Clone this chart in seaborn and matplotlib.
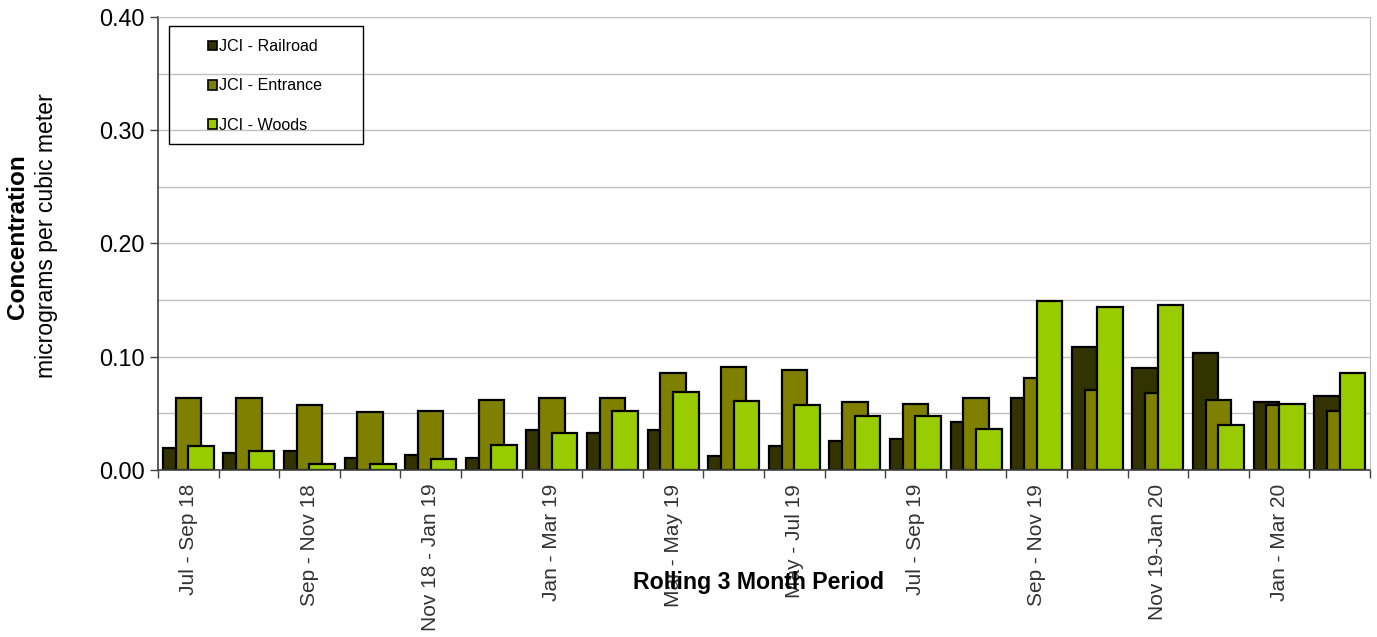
import pandas as pd
import matplotlib
matplotlib.use("Agg")
import matplotlib.pyplot as plt
import seaborn as sns
from matplotlib.patches import Rectangle
from matplotlib.ticker import MultipleLocator, FixedLocator, NullFormatter

# Rolling 3 month periods
periods = ['Jul - Sep 18', 'Aug - Oct 18', 'Sep - Nov 18', 'Oct - Dec 18',
           'Nov 18 - Jan 19', 'Dec 18 - Feb 19', 'Jan - Mar 19', 'Feb - Apr 19',
           'Mar - May 19', 'Apr - Jun 19', 'May - Jul 19', 'Jun - Aug 19',
           'Jul - Sep 19', 'Aug - Oct 19', 'Sep - Nov 19', 'Oct - Dec 19',
           'Nov 19-Jan 20', 'Dec 19 - Feb 20', 'Jan - Mar 20', 'Feb - Apr 20']

# Concentrations (micrograms per cubic meter)
railroad = [0.019, 0.015, 0.017, 0.011, 0.013, 0.011, 0.035, 0.033, 0.035, 0.012,
            0.021, 0.026, 0.027, 0.042, 0.064, 0.109, 0.090, 0.103, 0.060, 0.065]
entrance = [0.064, 0.064, 0.057, 0.051, 0.052, 0.062, 0.064, 0.064, 0.086, 0.091,
            0.088, 0.060, 0.058, 0.064, 0.081, 0.071, 0.068, 0.062, 0.057, 0.052]
woods = [0.021, 0.017, 0.005, 0.005, 0.010, 0.022, 0.033, 0.052, 0.069, 0.061,
         0.057, 0.048, 0.048, 0.036, 0.149, 0.144, 0.146, 0.040, 0.058, 0.086]

series = ['JCI - Railroad', 'JCI - Entrance', 'JCI - Woods']
colors = ['#333300', '#808000', '#99cc00']

df = pd.DataFrame({'Period': periods * 3,
                   'Site': [s for s in series for _ in periods],
                   'Value': railroad + entrance + woods})

plt.rcParams['font.family'] = ['Liberation Sans', 'DejaVu Sans']

fig = plt.figure(figsize=(13.77, 6.37), dpi=100)
ax = fig.add_axes([0.1147, 0.2622, 0.8802, 0.7111])

sns.barplot(data=df, x='Period', y='Value', hue='Site', order=periods,
            hue_order=series, palette=colors, width=0.63, errorbar=None,
            edgecolor='black', linewidth=1.6, saturation=1, ax=ax)

# Excel-style overlapping bars: widen each bar around its centre
for p in ax.patches:
    w = p.get_width()
    p.set_x(p.get_x() - w / 2)
    p.set_width(w * 2)

ax.set_xlim(-0.5, len(periods) - 0.5)
ax.set_ylim(0, 0.40)

# y axis
ax.yaxis.set_major_locator(MultipleLocator(0.10))
ax.yaxis.set_minor_locator(MultipleLocator(0.05))
ax.yaxis.set_major_formatter(lambda v, pos: f'{v:.2f}')
ax.grid(axis='y', which='both', color='#c0c0c0', linewidth=1)
ax.set_axisbelow(True)
ax.tick_params(axis='y', which='major', labelsize=16.8, length=6, width=1, color='#404040')
ax.tick_params(axis='y', which='minor', length=0)

# x axis: tick marks between groups, labels on every second group
ax.xaxis.set_major_locator(FixedLocator([i - 0.5 for i in range(len(periods) + 1)]))
ax.xaxis.set_major_formatter(NullFormatter())
ax.xaxis.set_minor_locator(FixedLocator(list(range(0, len(periods), 2))))
ax.xaxis.set_minor_formatter(lambda v, pos: periods[int(round(v))])
ax.tick_params(axis='x', which='major', length=6, width=1, color='#404040')
ax.tick_params(axis='x', which='minor', length=0, labelsize=15, labelcolor='#333333',
               labelrotation=90, pad=10)

for side in ['left', 'bottom']:
    ax.spines[side].set_color('#404040')
    ax.spines[side].set_linewidth(1.2)
for side in ['top', 'right']:
    ax.spines[side].set_color('#c0c0c0')

ax.set_xlabel('')
ax.set_ylabel('')
fig.text(0.551, 0.086, 'Rolling 3 Month Period', ha='center', va='center',
         fontsize=16.7, fontweight='bold')
fig.text(0.0125, 0.628, 'Concentration', rotation=90, ha='center', va='center',
         fontsize=17.5, fontweight='bold')
fig.text(0.034, 0.63, 'micrograms per cubic meter', rotation=90, ha='center',
         va='center', fontsize=16.6)

# legend entries, with the box drawn separately (wide, transparent)
leg = ax.legend(loc='upper left', bbox_to_anchor=(0.0413, 0.951), frameon=False,
                fontsize=11.6, handlelength=0.56, handleheight=0.56,
                handletextpad=0.12, labelspacing=1.5, borderpad=0, borderaxespad=0)
for h in leg.legend_handles:
    h.set_linewidth(1.2)
ax.add_patch(Rectangle((0.0091, 0.7196), 0.16, 0.2605, transform=ax.transAxes,
                       facecolor='none', edgecolor='black', linewidth=1,
                       zorder=5, clip_on=False))

fig.savefig('out.png', dpi=100)
